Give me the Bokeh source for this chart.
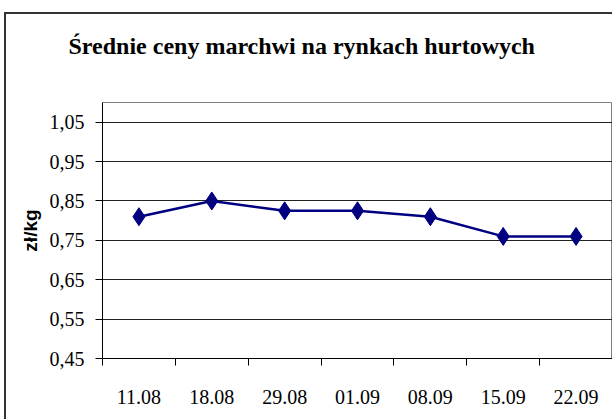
from bokeh.plotting import figure
from bokeh.models import FixedTicker, Range1d, Title
from bokeh.embed import file_html
from bokeh.resources import INLINE

title_text = "Średnie ceny marchwi na rynkach hurtowych"
y_axis_title = "zł/kg"
dates = ["11.08", "18.08", "29.08", "01.09", "08.09", "15.09", "22.09"]
prices = [0.81, 0.85, 0.825, 0.825, 0.81, 0.76, 0.76]
y_ticks = [0.45, 0.55, 0.65, 0.75, 0.85, 0.95, 1.05]
y_tick_labels = ["0,45", "0,55", "0,65", "0,75", "0,85", "0,95", "1,05"]

n = len(dates)
xs = [i + 0.5 for i in range(n)]

p = figure(width=612, height=419, output_backend="svg", toolbar_location=None,
           title=None,
           x_range=Range1d(0, n), y_range=Range1d(0.45, 1.10),
           min_border_left=102, min_border_top=102, min_border_bottom=61,
           min_border_right=0)
p.background_fill_color = "white"
p.border_fill_color = None
p.outline_line_color = "#808080"
p.outline_line_width = 1
p.styles = {
    "background": "linear-gradient(#333,#333) 4px 12px / 2px 100% no-repeat, "
                  "linear-gradient(#333,#333) 4px 12px / 100% 2px no-repeat, white",
}

# spacer between the title and the plot frame, then the title itself
spacer = Title(text=" ", text_font_size="24px", standoff=15)
p.add_layout(spacer, "above")
main_title = Title(text=title_text, align="left", offset=-34, standoff=0,
                   text_font="Liberation Serif", text_font_style="bold",
                   text_font_size="24px", text_color="black")
p.add_layout(main_title, "above")

# x axis
p.xaxis.ticker = FixedTicker(ticks=xs, minor_ticks=[float(i) for i in range(n + 1)])
p.xaxis.major_label_overrides = {x: d for x, d in zip(xs, dates)}
p.xaxis.major_tick_out = 0
p.xaxis.major_tick_in = 0
p.xaxis.minor_tick_out = 7
p.xaxis.minor_tick_in = 0
p.xaxis.minor_tick_line_color = "black"
p.xaxis.axis_line_color = "black"
p.xaxis.major_label_standoff = 24
p.xaxis.major_label_text_font = "Liberation Serif"
p.xaxis.major_label_text_font_size = "20px"
p.xaxis.major_label_text_color = "black"

# y axis
p.yaxis.ticker = FixedTicker(ticks=y_ticks)
p.yaxis.major_label_overrides = {t: l for t, l in zip(y_ticks, y_tick_labels)}
p.yaxis.major_tick_out = 7
p.yaxis.major_tick_in = 0
p.yaxis.minor_tick_line_color = None
p.yaxis.axis_line_color = "black"
p.yaxis.major_label_standoff = 11
p.yaxis.major_label_text_font = "Liberation Serif"
p.yaxis.major_label_text_font_size = "20px"
p.yaxis.major_label_text_color = "black"
p.yaxis.axis_label = y_axis_title
p.yaxis.axis_label_text_font = "Liberation Sans"
p.yaxis.axis_label_text_font_style = "bold"
p.yaxis.axis_label_text_font_size = "19px"
p.yaxis.axis_label_text_color = "black"
p.yaxis.axis_label_standoff = 6

p.xgrid.grid_line_color = None
p.ygrid.ticker = FixedTicker(ticks=y_ticks)
p.ygrid.grid_line_color = "#222222"
p.ygrid.grid_line_width = 1

p.line(xs, prices, line_color="#000080", line_width=2.5)
p.scatter(xs, prices, marker="diamond", size=18, fill_color="#000080",
          line_color="#000080")

open("out.html", "w").write(file_html(p, INLINE))
